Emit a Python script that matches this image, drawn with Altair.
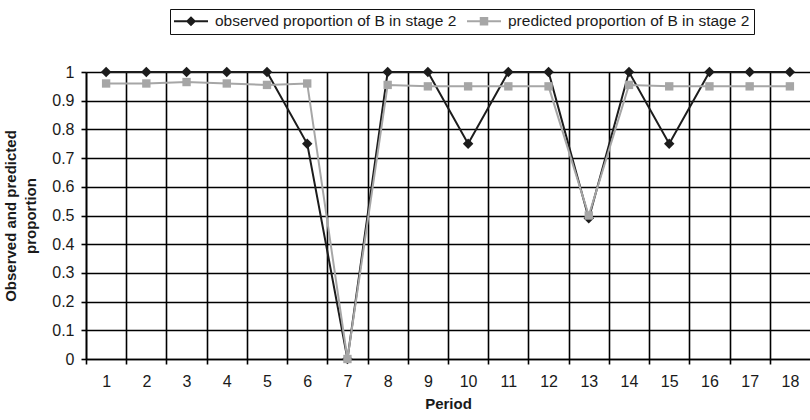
import altair as alt
import pandas as pd

# Period-by-period proportions of B choices in stage 2
periods = list(range(1, 19))
observed = [1, 1, 1, 1, 1, 0.75, 0, 1, 1, 0.75, 1, 1, 0.49, 1, 0.75, 1, 1, 1]
predicted = [0.96, 0.96, 0.965, 0.96, 0.955, 0.96, 0.0, 0.955, 0.95, 0.95,
             0.95, 0.95, 0.5, 0.955, 0.95, 0.95, 0.95, 0.95]

OBS = "observed proportion of B in stage 2"
PRED = "predicted proportion of B in stage 2"
series_names = [OBS, PRED]
y_ticks = [0, 0.1, 0.2, 0.3, 0.4, 0.5, 0.6, 0.7, 0.8, 0.9, 1]
# cell boundaries between periods carry the grid and tick marks
boundaries = [p - 0.5 for p in periods]

BLACK = "#1c1c1c"
GRAY = "#a6a6a6"
FONT = "Liberation Sans"

# legend glyphs: a short line sample with the series marker on it
LINE_SEG = "M-1,-0.06L1,-0.06L1,0.06L-1,0.06Z"
DIAMOND_GLYPH = LINE_SEG + " M0,-0.3L0.3,0L0,0.3L-0.3,0Z"
SQUARE_GLYPH = LINE_SEG + " M-0.25,-0.25L0.25,-0.25L0.25,0.25L-0.25,0.25Z"

df = pd.DataFrame({
    "period": periods * 2,
    "value": observed + predicted,
    "series": [OBS] * len(periods) + [PRED] * len(periods),
})

W, H = 724, 287
half_cell = W / len(periods) / 2

x_enc = alt.X(
    "period:Q",
    scale=alt.Scale(domain=[0.5, 18.5], nice=False, zero=False),
    axis=alt.Axis(
        values=boundaries,
        labelExpr="'' + (datum.value + 0.5)",
        labelOffset=half_cell,
        labelFlush=False,
        labelPadding=9,
        title="Period",
        titleY=44,
        titleBaseline="middle",
    ),
)
y_enc = alt.Y(
    "value:Q",
    scale=alt.Scale(domain=[0, 1], nice=False),
    axis=alt.Axis(
        values=y_ticks,
        format="~g",
        labelPadding=7,
        title=["Observed and predicted", "proportion"],
        titleX=-68,
        titleY=H / 2,
        titleBaseline="bottom",
        titleLineHeight=20,
    ),
)

base = alt.Chart(df)


def series_layers(name, color, shape, marker_size):
    part = base.transform_filter(alt.datum.series == name)
    line = part.mark_line(strokeWidth=2, color=color).encode(x=x_enc, y=y_enc)
    pts = part.mark_point(
        filled=True, opacity=1, size=marker_size, shape=shape, color=color
    ).encode(x=x_enc, y=y_enc)
    return [line, pts]


# legend-only layer: no rows pass the filter, the legend comes from the fixed domains
legend_layer = (
    base.transform_filter("false")
    .mark_point(filled=True, opacity=1)
    .encode(
        x=x_enc,
        y=y_enc,
        fill=alt.Fill(
            "series:N",
            scale=alt.Scale(domain=series_names, range=[BLACK, GRAY]),
            legend=alt.Legend(
                orient="none",
                legendX=84,
                legendY=-63,
                direction="horizontal",
                columns=2,
                title=None,
                padding=4,
                columnPadding=10,
                clipHeight=16,
                symbolSize=34 * 34,
                symbolStrokeWidth=0,
                symbolOpacity=1,
                labelOffset=7,
                labelLimit=0,
                labelFont=FONT,
                labelFontSize=15.5,
                labelColor="#1a1a1a",
                strokeColor="#111111",
            ),
        ),
        shape=alt.Shape(
            "series:N",
            scale=alt.Scale(domain=series_names, range=[DIAMOND_GLYPH, SQUARE_GLYPH]),
        ),
    )
)

chart = (
    alt.layer(
        *series_layers(OBS, BLACK, "diamond", 110),
        *series_layers(PRED, GRAY, "square", 70),
        legend_layer,
    )
    .properties(
        width=W,
        height=H,
        padding={"left": 86, "top": 72, "right": 0, "bottom": 61},
        autosize=alt.AutoSizeParams(type="none"),
        background="white",
    )
    .configure_view(stroke=None)
    .configure_axis(
        grid=True,
        gridColor="#000000",
        gridWidth=1.6,
        gridOpacity=1,
        domainColor="#000000",
        domainWidth=1.6,
        tickColor="#000000",
        tickWidth=1.6,
        tickSize=5,
        labelFont=FONT,
        labelFontSize=16,
        labelColor="#1a1a1a",
        titleFont=FONT,
        titleFontSize=15,
        titleFontWeight="bold",
        titleColor="#1a1a1a",
    )
)

chart.save("out.html", embed_options={"renderer": "svg", "actions": False})
